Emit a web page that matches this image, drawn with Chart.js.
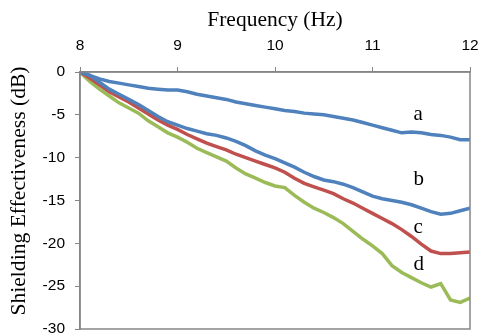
<!DOCTYPE html>
<html><head><meta charset="utf-8">
<script src="https://cdn.jsdelivr.net/npm/chart.js@4"></script>
<style>html,body{margin:0;padding:0;background:#fff;overflow:hidden}#wrap{width:481px;height:336px}</style>
</head><body><div id="wrap"><canvas id="c"></canvas></div>
<script>
const freq = [8.0,8.1,8.2,8.3,8.4,8.5,8.6,8.7,8.8,8.9,9.0,9.1,9.2,9.3,9.4,9.5,9.6,9.7,9.8,9.9,10.0,10.1,10.2,10.3,10.4,10.5,10.6,10.7,10.8,10.9,11.0,11.1,11.2,11.3,11.4,11.5,11.6,11.7,11.8,11.9,12.0];
const seriesA = [0,-0.4,-0.8,-1.1,-1.3,-1.5,-1.7,-1.9,-2.0,-2.1,-2.1,-2.3,-2.6,-2.8,-3.0,-3.2,-3.5,-3.7,-3.9,-4.1,-4.3,-4.5,-4.6,-4.8,-4.9,-5.0,-5.2,-5.4,-5.6,-5.9,-6.2,-6.5,-6.8,-7.1,-7.0,-7.1,-7.3,-7.4,-7.6,-7.9,-7.9];
const seriesB = [0,-0.4,-1.2,-2.0,-2.6,-3.2,-3.8,-4.5,-5.2,-5.8,-6.2,-6.6,-6.9,-7.2,-7.4,-7.7,-8.1,-8.6,-9.2,-9.7,-10.1,-10.6,-11.1,-11.7,-12.2,-12.6,-12.8,-13.1,-13.5,-14.0,-14.5,-14.8,-15.0,-15.2,-15.5,-15.9,-16.3,-16.6,-16.5,-16.2,-15.9];
const seriesC = [0,-0.7,-1.5,-2.3,-2.9,-3.5,-4.2,-4.9,-5.6,-6.2,-6.7,-7.3,-7.8,-8.3,-8.7,-9.1,-9.6,-10.0,-10.4,-10.8,-11.2,-11.7,-12.4,-13.0,-13.4,-13.8,-14.2,-14.8,-15.3,-15.9,-16.5,-17.1,-17.7,-18.4,-19.2,-20.1,-20.9,-21.2,-21.2,-21.1,-21.0];
const seriesD = [0,-1.1,-2.0,-2.8,-3.6,-4.2,-4.8,-5.7,-6.4,-7.1,-7.6,-8.2,-8.9,-9.4,-9.9,-10.4,-11.2,-11.9,-12.4,-12.9,-13.3,-13.5,-14.4,-15.2,-15.9,-16.4,-17.0,-17.7,-18.6,-19.5,-20.3,-21.2,-22.6,-23.4,-24.0,-24.6,-25.1,-24.7,-26.6,-26.9,-26.4];
const seriesNames = ['a','b','c','d'];
const labelX = [11.42,11.42,11.42,11.42];
const labelY = [-5.0,-12.6,-18.1,-22.5];
const xTicks = [8,9,10,11,12];
const yTicks = [0,-5,-10,-15,-20,-25,-30];
const xTitle = 'Frequency (Hz)';
const yTitle = 'Shielding Effectiveness (dB)';

const BLUE='#4F81BD', RED='#C0504D', GREEN='#9BBB59';
const colors=[BLUE,BLUE,RED,GREEN];
const allSeries=[seriesA,seriesB,seriesC,seriesD];
const SERIF='"Liberation Serif", "Times New Roman", serif';
const SANS='"Liberation Sans", Arial, sans-serif';

const frame = {
  id:'frame',
  afterDatasetsDraw(chart){
    const {ctx,chartArea:a,scales}=chart;
    ctx.save();
    ctx.strokeStyle='#868686';ctx.lineWidth=1.5;
    ctx.strokeRect(a.left,a.top,a.right-a.left,a.bottom-a.top);
    ctx.fillStyle='#000';
    ctx.font='21px '+SERIF;
    ctx.textAlign='left';ctx.textBaseline='middle';
    seriesNames.forEach((n,i)=>{
      ctx.fillText(n,scales.x.getPixelForValue(labelX[i]),scales.y.getPixelForValue(labelY[i]));
    });
    ctx.translate(19,191);
    ctx.rotate(-Math.PI/2);
    ctx.textAlign='center';
    ctx.font='21.6px '+SERIF;
    ctx.fillText(yTitle,0,0);
    ctx.restore();
  }
};

new Chart(document.getElementById('c'),{
  type:'line',
  data:{datasets:allSeries.map((s,i)=>({
    label:seriesNames[i],
    data:freq.map((f,j)=>({x:f,y:s[j]})),
    borderColor:colors[i],borderWidth:3.5,pointRadius:0,tension:0,fill:false
  }))},
  options:{
    responsive:true,maintainAspectRatio:false,animation:false,
    layout:{padding:{left:0,right:11,top:0,bottom:7}},
    plugins:{legend:{display:false},tooltip:{enabled:false}},
    scales:{
      x:{type:'linear',position:'top',min:8,max:12,
        afterBuildTicks(s){s.ticks=xTicks.map(v=>({value:v}));},
        afterFit(s){s.height=72;s.paddingLeft=0;s.paddingRight=0;},
        grid:{drawOnChartArea:false,drawTicks:true,tickLength:5,color:'#868686'},
        border:{display:true,color:'#868686',width:1.5},
        ticks:{color:'#000',font:{family:SANS,size:15.5},padding:12,maxRotation:0},
        title:{display:true,text:xTitle,color:'#000',font:{family:SERIF,size:21.5},padding:{top:7,bottom:0}}
      },
      y:{type:'linear',min:-30,max:0,
        afterBuildTicks(s){s.ticks=yTicks.map(v=>({value:v}));},
        afterFit(s){s.width=80;s.paddingTop=0;s.paddingBottom=0;},
        grid:{drawOnChartArea:false,drawTicks:true,tickLength:5,color:'#868686'},
        border:{display:true,color:'#868686',width:1.5},
        ticks:{color:'#000',font:{family:SANS,size:15.5},padding:10},
        title:{display:false}
      }
    }
  },
  plugins:[frame]
});
</script></body></html>
